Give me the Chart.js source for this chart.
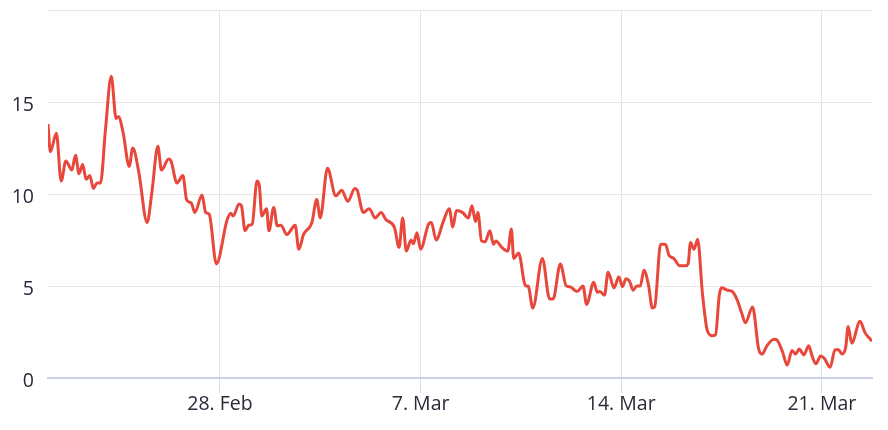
<!DOCTYPE html>
<html>
<head>
<meta charset="utf-8">
<script src="https://cdn.jsdelivr.net/npm/chart.js@4"></script>
<style>
  html, body { margin: 0; padding: 0; background: #ffffff; }
  #wrap { width: 888px; height: 430px; position: relative; }
</style>
</head>
<body>
<div id="wrap"><canvas id="chart"></canvas></div>
<script>
// hours since 22 Feb 00:00
const hours = [0, 2, 7, 11, 15, 20, 23, 26, 29, 32, 35, 38, 41, 44, 48, 53, 57, 59, 63, 68,
  71, 76, 83, 87, 92, 95, 101, 103, 108, 113, 116, 120, 123, 129, 132, 135, 141, 150, 153, 155,
  160, 162, 165, 168, 171, 175, 177, 179, 183, 185, 189, 192, 195, 200, 207, 210, 214, 221, 225, 228,
  234, 241, 246, 251, 257, 259, 264, 269, 274, 279, 283, 290, 294, 297, 300, 304, 306, 309, 312, 319,
  321, 325, 331, 336, 339, 342, 347, 352, 355, 358, 360, 363, 366, 370, 373, 375, 380, 385, 388, 390,
  394, 400, 402, 406, 414, 420, 423, 429, 434, 437, 443, 448, 451, 457, 460, 462, 466, 469, 474, 478,
  481, 484, 487, 490, 493, 496, 499, 503, 506, 508, 513, 517, 520, 524, 529, 534, 536, 538, 541, 544,
  548, 552, 556, 559, 562, 564, 569, 573, 577, 581, 584, 590, 595, 598, 602, 608, 610, 615, 619, 623,
  626, 629, 633, 637, 640, 643, 647, 650, 655, 659, 662, 665, 668, 670, 673, 680, 684, 689, 690];

const values = [13.8, 12.3, 13.3, 10.7, 11.8, 11.3, 12.1, 11.1, 11.6, 10.8, 11.0, 10.3, 10.6, 10.6, 13.4, 16.4, 14.1, 14.2, 13.3, 11.5,
  12.5, 11.2, 8.45, 10.1, 12.6, 11.3, 11.9, 11.8, 10.6, 11.0, 9.7, 9.5, 9.0, 9.95, 9.0, 8.9, 6.2, 8.6, 8.96, 8.8,
  9.45, 9.36, 8.0, 8.3, 8.36, 10.7, 10.45, 8.8, 9.2, 8.0, 9.27, 8.27, 8.3, 7.8, 8.3, 7.0, 7.8, 8.45, 9.7, 8.7,
  11.4, 9.9, 10.2, 9.6, 10.3, 10.2, 9.0, 9.2, 8.7, 9.0, 8.6, 8.2, 7.1, 8.7, 6.9, 7.5, 7.3, 7.9, 7.0, 8.4,
  8.45, 7.5, 8.5, 9.2, 8.2, 9.1, 9.0, 8.7, 9.36, 8.5, 9.0, 7.45, 7.4, 8.0, 7.27, 7.45, 7.1, 6.9, 8.1, 6.5,
  6.8, 5.0, 5.0, 3.8, 6.5, 4.3, 4.3, 6.2, 5.0, 4.96, 4.7, 5.0, 4.0, 5.2, 4.66, 4.7, 4.5, 5.75, 4.9, 5.5,
  4.96, 5.4, 5.26, 4.77, 5.0, 5.0, 5.86, 5.0, 3.8, 3.86, 7.27, 7.27, 6.67, 6.5, 6.1, 6.1, 6.2, 7.36, 7.0, 7.54,
  4.6, 2.6, 2.3, 2.35, 4.44, 4.9, 4.77, 4.7, 4.26, 3.5, 3.0, 3.86, 1.6, 1.3, 1.75, 2.1, 2.08, 1.44, 0.7, 1.5,
  1.3, 1.57, 1.26, 1.75, 1.16, 0.77, 1.2, 1.07, 0.58, 1.53, 1.53, 1.3, 1.68, 2.8, 1.9, 3.08, 2.48, 2.08, 2.0];

const tickHours = [144, 312, 480, 648];
const tickLabels = ['28. Feb', '7. Mar', '14. Mar', '21. Mar'];
const yTicks = [0, 5, 10, 15, 20];

const labelFont = { family: '"Open Sans", sans-serif', size: 19.5 };
const labelColor = '#2a2a3a';

const points = hours.map((h, i) => ({ x: h, y: values[i] }));

new Chart(document.getElementById('chart'), {
    type: 'line',
    data: {
        datasets: [{
            data: points,
            borderColor: '#e8483b',
            borderWidth: 3,
            pointRadius: 0,
            cubicInterpolationMode: 'monotone',
            fill: false
        }]
    },
    options: {
        responsive: true,
        maintainAspectRatio: false,
        animation: false,
        layout: { padding: { top: 10, right: 16, bottom: 0, left: 0 } },
        plugins: { legend: { display: false }, tooltip: { enabled: false } },
        scales: {
            x: {
                type: 'linear',
                min: 0,
                max: 690,
                afterBuildTicks: scale => { scale.ticks = tickHours.map(v => ({ value: v })); },
                afterFit: scale => {
                    scale.height = 52;
                    scale.paddingLeft = 0;
                    scale.paddingRight = 0;
                },
                ticks: {
                    font: labelFont,
                    color: labelColor,
                    padding: 0,
                    maxRotation: 0,
                    callback: v => tickLabels[tickHours.indexOf(v)] || ''
                },
                grid: { color: '#e2e2ec', lineWidth: 1, tickLength: 15, tickColor: '#d8d8e8' },
                border: { color: '#ccd0e6', width: 2 }
            },
            y: {
                min: 0,
                max: 20,
                afterBuildTicks: scale => { scale.ticks = yTicks.map(v => ({ value: v })); },
                afterFit: scale => {
                    scale.width = 48;
                    scale.paddingTop = 0;
                    scale.paddingBottom = 0;
                },
                ticks: {
                    font: labelFont,
                    color: labelColor,
                    padding: 14,
                    labelOffset: 3,
                    callback: v => (v === 20 ? '' : String(v))
                },
                grid: { color: '#e6e6e6', lineWidth: 1, drawTicks: false },
                border: { display: false }
            }
        }
    }
});
</script>
</body>
</html>
